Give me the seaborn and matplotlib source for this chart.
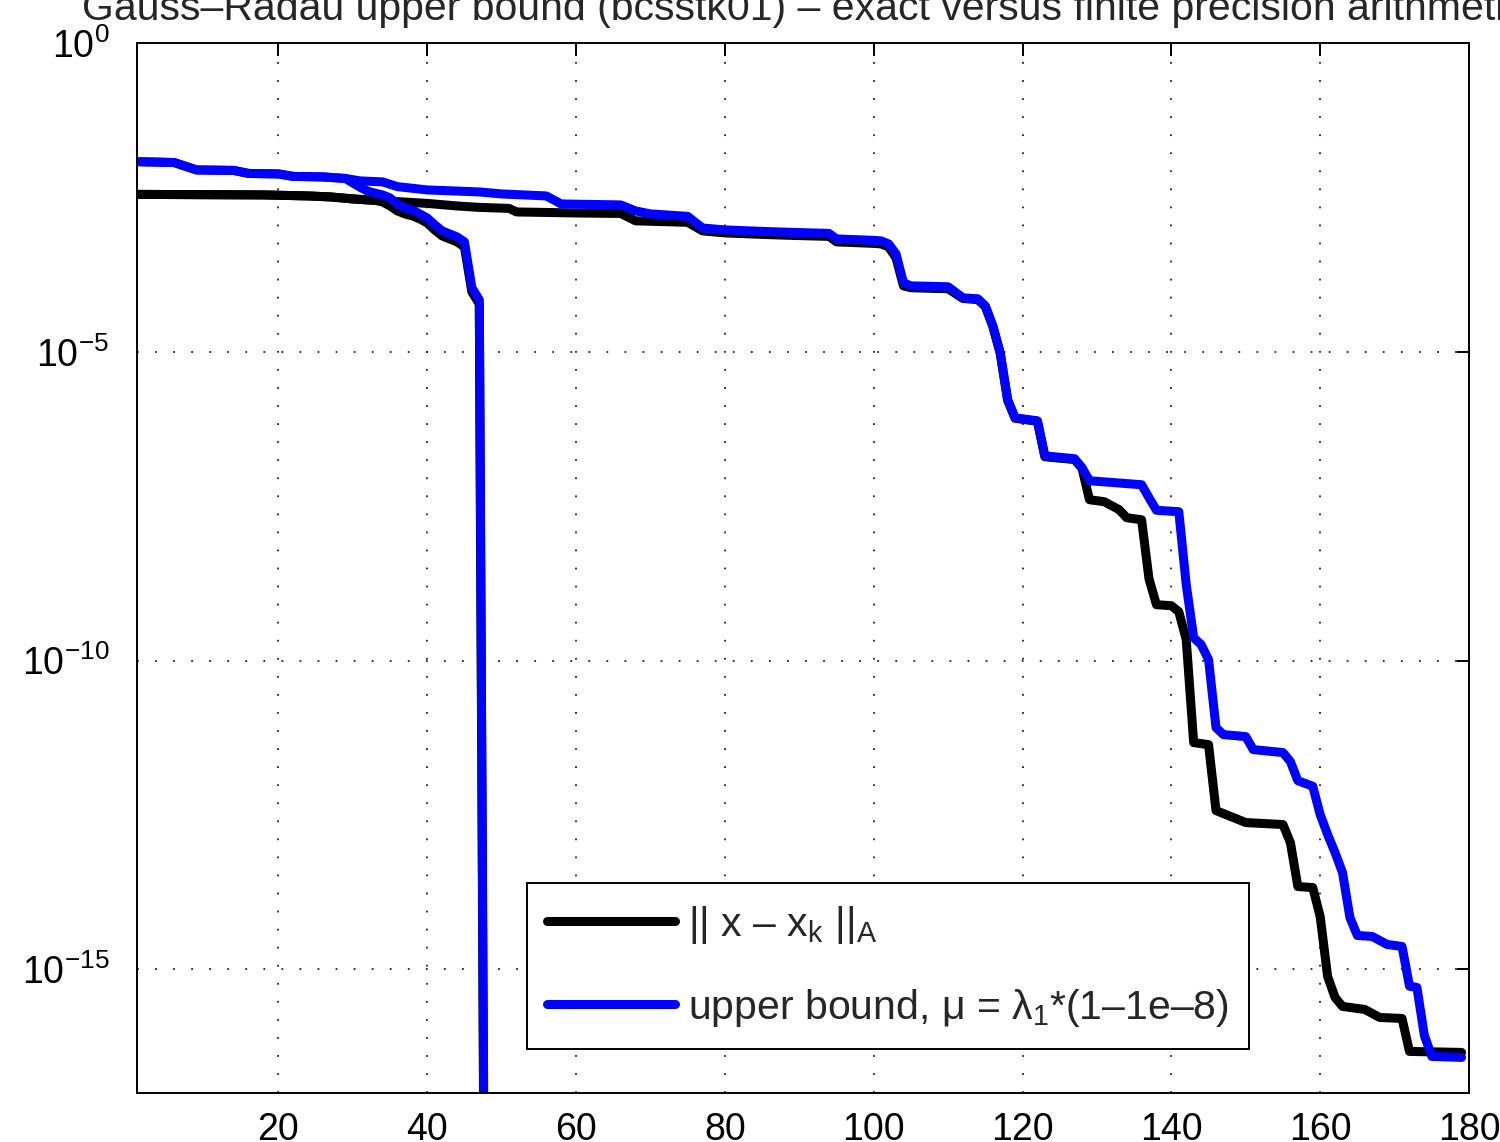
import numpy as np
import pandas as pd
import matplotlib
matplotlib.use("Agg")
import matplotlib.pyplot as plt
from matplotlib.ticker import NullLocator
import seaborn as sns

# finite precision: A-norm of the error (black) and Gauss-Radau upper bound (blue)
fp_err_it = [1, 18, 24, 27, 30, 32, 33, 36, 40, 44, 47, 51, 52, 60, 66, 68, 75, 77, 80, 85,
             89, 94, 95, 100, 101, 102, 103, 104, 105, 110, 112, 114, 115, 116, 117, 118,
             119, 122, 123, 127, 128, 129, 131, 133, 134, 136, 137, 138, 140, 141, 142, 143,
             145, 146, 148, 150, 155, 156, 157, 159, 160, 161, 162, 163, 166, 168, 171, 172, 179]
fp_err = [3.54e-3, 3.47e-3, 3.34e-3, 3.22e-3, 2.99e-3, 2.88e-3, 2.83e-3, 2.70e-3, 2.53e-3,
          2.30e-3, 2.18e-3, 2.10e-3, 1.84e-3, 1.77e-3, 1.74e-3, 1.32e-3, 1.25e-3, 9.08e-4,
          8.43e-4, 7.97e-4, 7.68e-4, 7.40e-4, 6.03e-4, 5.70e-4, 5.59e-4, 5.0e-4, 3.32e-4,
          1.17e-4, 1.09e-4, 1.05e-4, 7.3e-5, 7.0e-5, 5.4e-5, 2.6e-5, 9.5e-6, 1.65e-6,
          8.4e-7, 7.5e-7, 2.0e-7, 1.8e-7, 1.3e-7, 4.03e-8, 3.74e-8, 2.77e-8, 2.06e-8,
          1.91e-8, 2.1e-9, 8.05e-10, 7.76e-10, 6.21e-10, 2.2e-10, 4.71e-12, 4.37e-12,
          3.74e-13, 2.99e-13, 2.39e-13, 2.22e-13, 1.13e-13, 2.20e-14, 2.12e-14, 7.21e-15,
          7.71e-16, 3.52e-16, 2.52e-16, 2.25e-16, 1.67e-16, 1.61e-16, 4.71e-17, 4.54e-17]

fp_bnd_it = [1, 6, 9, 14, 16, 20, 22, 26, 29, 31, 34, 36, 40, 47, 50, 56, 58, 66, 68, 70, 75,
             77, 80, 85, 89, 94, 95, 100, 101, 102, 103, 104, 105, 110, 112, 114, 115, 116,
             117, 118, 119, 122, 123, 127, 128, 129, 136, 137, 138, 141, 142, 143, 144, 145,
             146, 147, 150, 151, 155, 156, 157, 159, 160, 161, 162, 163, 164, 165, 167, 169,
             171, 172, 173, 174, 175, 179]
fp_bnd = [1.20e-2, 1.16e-2, 8.81e-3, 8.65e-3, 7.73e-3, 7.59e-3, 6.92e-3, 6.79e-3, 6.41e-3,
          5.85e-3, 5.64e-3, 4.73e-3, 4.18e-3, 3.88e-3, 3.60e-3, 3.34e-3, 2.48e-3, 2.39e-3,
          1.91e-3, 1.71e-3, 1.56e-3, 1.01e-3, 9.42e-4, 8.91e-4, 8.59e-4, 8.27e-4, 6.73e-4,
          6.37e-4, 6.25e-4, 5.59e-4, 3.85e-4, 1.31e-4, 1.17e-4, 1.13e-4, 7.48e-5, 7.21e-5,
          5.55e-5, 2.64e-5, 9.63e-6, 1.67e-6, 8.55e-7, 7.64e-7, 2.07e-7, 1.86e-7, 1.33e-7,
          8.18e-8, 7.05e-8, 4.34e-8, 2.72e-8, 2.58e-8, 1.70e-9, 2.36e-10, 1.82e-10,
          1.04e-10, 8.24e-12, 6.35e-12, 5.89e-12, 3.63e-12, 3.25e-12, 2.32e-12, 1.14e-12,
          9.25e-13, 3.22e-13, 1.53e-13, 7.8e-14, 3.71e-14, 6.9e-15, 3.55e-15, 3.42e-15,
          2.54e-15, 2.36e-15, 5.37e-16, 5.12e-16, 8.55e-17, 3.91e-17, 3.77e-17]

# exact arithmetic: error and bound vanish after iteration 48
ex_err_it = [1, 18, 24, 27, 30, 32, 33, 34, 35, 36, 37, 38, 39, 40, 41, 42, 43, 44, 45, 46, 47, 48]
ex_err = [3.54e-3, 3.47e-3, 3.34e-3, 3.22e-3, 2.99e-3, 2.88e-3, 2.83e-3, 2.67e-3, 2.30e-3,
          1.91e-3, 1.71e-3, 1.59e-3, 1.42e-3, 1.22e-3, 9.42e-4, 7.54e-4, 6.73e-4, 6.03e-4,
          5.0e-4, 9.35e-5, 5.98e-5, 1e-27]

ex_bnd_it = [1, 6, 9, 14, 16, 20, 22, 26, 29, 30, 31, 32, 33, 34, 35, 36, 37, 38, 39, 40, 41,
             42, 43, 44, 45, 46, 47, 48]
ex_bnd = [1.20e-2, 1.16e-2, 8.81e-3, 8.65e-3, 7.73e-3, 7.59e-3, 6.92e-3, 6.79e-3, 6.41e-3,
          5.43e-3, 4.6e-3, 4.0e-3, 3.7e-3, 3.47e-3, 3.1e-3, 2.45e-3, 2.14e-3, 1.99e-3,
          1.71e-3, 1.47e-3, 1.14e-3, 9.08e-4, 8.11e-4, 7.26e-4, 6.03e-4, 1.09e-4, 6.94e-5, 1e-26]

xticks = [20, 40, 60, 80, 100, 120, 140, 160, 180]
yticks = [1e0, 1e-5, 1e-10, 1e-15]

sns.set_style("white")
plt.rcParams["font.family"] = ["Liberation Sans", "DejaVu Sans"]
plt.rcParams["mathtext.fontset"] = "custom"
plt.rcParams["mathtext.rm"] = "Liberation Sans"
plt.rcParams["mathtext.default"] = "regular"

fig = plt.figure(figsize=(15, 11.42), dpi=100)
ax = fig.add_axes([137 / 1500, 49 / 1142, 1332 / 1500, 1050 / 1142])

lw = 6.5
series = [
    (ex_err_it, ex_err, "black", "|| x – x$_k$ ||$_A$"),
    (fp_err_it, fp_err, "black", None),
    (ex_bnd_it, ex_bnd, "blue", "upper bound, μ = λ$_1$*(1–1e–8)"),
    (fp_bnd_it, fp_bnd, "blue", None),
]
for it, val, col, lab in series:
    df = pd.DataFrame({"iteration": it, "value": val})
    sns.lineplot(data=df, x="iteration", y="value", color=col, lw=lw, errorbar=None,
                 label=lab, legend=False, ax=ax, solid_joinstyle="round")

ax.set_yscale("log")
ax.set_xlim(1, 180)
ax.set_ylim(1e-17, 1e0)
ax.set_xticks(xticks)
ax.set_yticks(yticks)
ax.yaxis.set_minor_locator(NullLocator())
ax.xaxis.set_minor_locator(NullLocator())
ax.set_xlabel("")
ax.set_ylabel("")

ax.tick_params(axis="both", which="major", direction="in", top=True, right=True,
               length=9, width=1.4, labelsize=27, colors="black")
ax.tick_params(axis="x", pad=14)
ax.tick_params(axis="y", pad=20)
for sp in ax.spines.values():
    sp.set_linewidth(1.4)
    sp.set_color("black")

ax.grid(True, which="major", color="#222222", linestyle=(0, (1, 9)), linewidth=1.3)
ax.set_axisbelow(True)

ax.set_title("Gauss–Radau upper bound (bcsstk01) – exact versus finite precision arithmetic",
             fontsize=29.5, pad=16.5)

handles, labels = ax.get_legend_handles_labels()
leg = ax.legend(handles, labels, loc="lower left", bbox_to_anchor=(0.2928, 0.0419),
                borderaxespad=0, fontsize=29.5, handlelength=3.1, handletextpad=0.32,
                borderpad=0.5, labelspacing=1.0, frameon=True, fancybox=False,
                edgecolor="black", framealpha=1, facecolor="white")
leg.get_frame().set_linewidth(1.4)

fig.savefig("out.png", dpi=100)
